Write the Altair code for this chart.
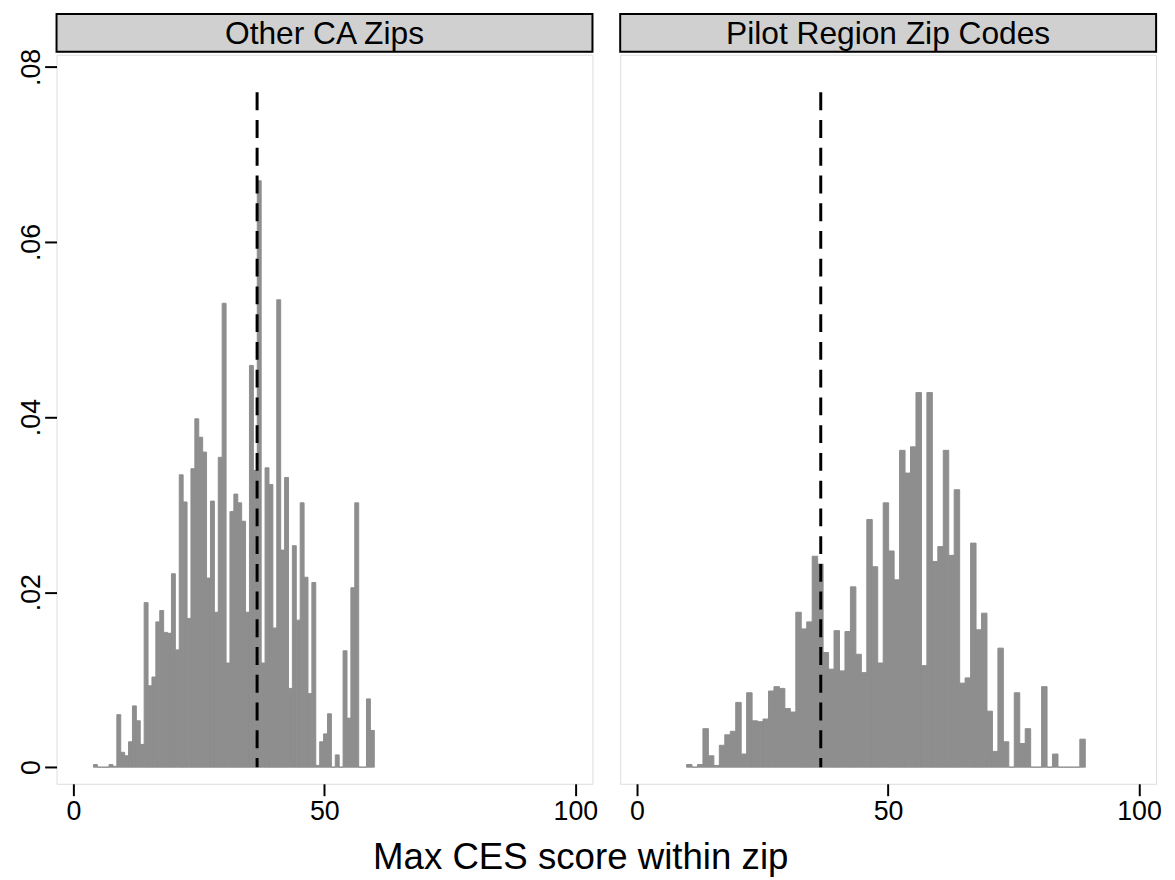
import altair as alt
import pandas as pd
import numpy as np

panel_names = ["Other CA Zips", "Pilot Region Zip Codes"]

# Left panel histogram (Other CA Zips): bin start, width, densities
left_bin_start = 4.0
left_bin_width = 0.777
left_density = [
    0.0003, 0, 0, 0, 0.0003, 0.0001,
    0.0060, 0.0017, 0.0013, 0.0029, 0.0070, 0.0053, 0.0026, 0.0188, 0.0093, 0.0103,
    0.0166, 0.0179, 0.0154, 0.0153, 0.0221, 0.0134, 0.0334, 0.0303, 0.0170, 0.0341,
    0.0398, 0.0377, 0.0360, 0.0216, 0.0304, 0.0177, 0.0354, 0.0530, 0.0119, 0.0292,
    0.0312, 0.0302, 0.0281, 0.0177, 0.0459, 0.0339, 0.0670, 0.0119, 0.0342, 0.0323,
    0.0159, 0.0534, 0.0248, 0.0331, 0.0090, 0.0253, 0.0168, 0.0302, 0.0217, 0.0084,
    0.0211, 0.0002, 0.0029, 0.0038, 0.0061, 0, 0.0014, 0, 0.0133, 0.0056,
    0.0205, 0.0302, 0, 0, 0.0078, 0.0042,
]

# Right panel histogram (Pilot Region Zip Codes)
right_bin_start = 9.87
right_bin_width = 1.088
right_density = [
    0.0003, 0, 0.0003,
    0.0044, 0.0013, 0.0002, 0.0025, 0.0037, 0.0041, 0.0074, 0.0015, 0.0085, 0.0053,
    0.0052, 0.0055, 0.0087, 0.0092, 0.0090, 0.0067, 0.0063, 0.0177, 0.0158, 0.0166,
    0.0241, 0.0232, 0.0131,
    0.0112, 0.0156, 0.0110, 0.0155, 0.0206, 0.0129, 0.0108, 0.0283, 0.0229, 0.0119,
    0.0302, 0.0247, 0.0214, 0.0362, 0.0336, 0.0366, 0.0428, 0.0116, 0.0428, 0.0235,
    0.0252, 0.0362,
    0.0242, 0.0317, 0.0096, 0.0102, 0.0256, 0.0157, 0.0176, 0.0064, 0.0018, 0.0136,
    0.0029, 0, 0.0085, 0.0027, 0.0044, 0, 0, 0.0092, 0, 0.0015, 0, 0, 0, 0, 0.0032,
]

ref_line_x = 36.6
ref_line_top = 0.0771

x_ticks = [0, 50, 100]
y_ticks = [0, 0.02, 0.04, 0.06, 0.08]

W = 541
H = 736
HH = 38
FONT = "Liberation Sans"
LABEL_FS = 27
XDOM = [-3.35, 103.4]
YDOM = [-0.0019, 0.0814]
BAR_COLOR = "#8e8e8e"


def make_df(start, width, dens):
    n = len(dens)
    lo = start + width * np.arange(n)
    return pd.DataFrame({"x0": lo, "x1": lo + width, "density": dens, "base": 0.0})


def panel(df, show_y):
    xs = alt.Scale(domain=XDOM, nice=False, zero=False)
    ys = alt.Scale(domain=YDOM, nice=False, zero=False)
    xaxis = alt.Axis(values=x_ticks, title=None, grid=False, domain=False,
                     tickSize=12, tickWidth=2, tickColor="black",
                     labelFontSize=LABEL_FS, labelColor="black", labelFont=FONT,
                     labelPadding=3, labelFlush=False, format="d")
    if show_y:
        yaxis = alt.Axis(values=y_ticks, title=None, grid=False, domain=False,
                         tickSize=12, tickWidth=2, tickColor="black",
                         labelExpr="datum.value == 0 ? '0' : replace(format(datum.value, '.2f'), '0.', '.')",
                         labelAngle=270, labelAlign="center", labelBaseline="middle",
                         labelPadding=13, labelFontSize=LABEL_FS, labelColor="black",
                         labelFont=FONT, labelFlush=False)
    else:
        yaxis = None
    bars = alt.Chart(df).mark_rect(color=BAR_COLOR, stroke=BAR_COLOR, strokeWidth=1).encode(
        x=alt.X("x0:Q", scale=xs, axis=xaxis),
        x2="x1:Q",
        y=alt.Y("density:Q", scale=ys, axis=yaxis),
        y2="base:Q",
    )
    line_df = pd.DataFrame({"x": [ref_line_x], "y": [ref_line_top], "y2": [0.0]})
    rule = alt.Chart(line_df).mark_rule(color="black", strokeWidth=3,
                                        strokeDash=[18, 10]).encode(
        x="x:Q", y="y:Q", y2="y2:Q")
    return alt.layer(bars, rule).properties(width=W, height=H)


def header(name):
    d = pd.DataFrame({"label": [name]})
    box = alt.Chart(d).mark_rect(fill="#d0d0d0", stroke="black", strokeWidth=2).encode(
        x=alt.value(0), x2=alt.value(W), y=alt.value(0), y2=alt.value(HH))
    txt = alt.Chart(d).mark_text(fontSize=32, font=FONT, color="black",
                                 baseline="middle", align="center").encode(
        x=alt.value(W / 2), y=alt.value(HH / 2 + 1), text="label:N")
    return alt.layer(box, txt).properties(width=W, height=HH)


left = alt.vconcat(header(panel_names[0]),
                   panel(make_df(left_bin_start, left_bin_width, left_density), True),
                   spacing=3, bounds="flush")
right = alt.vconcat(header(panel_names[1]),
                    panel(make_df(right_bin_start, right_bin_width, right_density), False),
                    spacing=3, bounds="flush")

chart = alt.hconcat(left, right, spacing=20).properties(
    title=alt.TitleParams("Max CES score within zip", orient="bottom", anchor="middle",
                          fontSize=37, font=FONT, fontWeight="normal", color="black",
                          offset=16, dx=-9),
    padding={"left": 9, "top": 0, "right": 5, "bottom": 5},
).configure_view(stroke="black", strokeWidth=2).configure(font=FONT)

chart.save("out.html", embed_options={"renderer": "svg", "actions": False})
